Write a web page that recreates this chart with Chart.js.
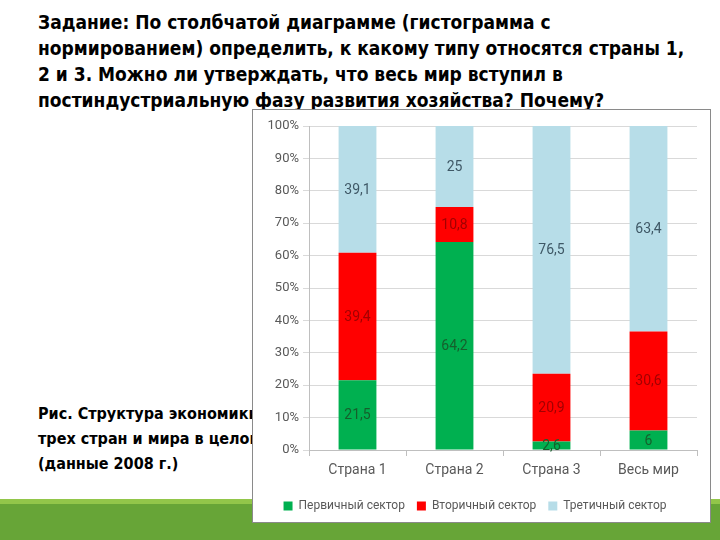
<!DOCTYPE html>
<html>
<head>
<meta charset="utf-8">
<script src="https://cdn.jsdelivr.net/npm/chart.js@4"></script>
<style>
  html, body { margin: 0; padding: 0; }
  body { width: 720px; height: 540px; position: relative; overflow: hidden; background: #fff;
         font-family: "DejaVu Sans Condensed", "Liberation Sans", sans-serif; }
  #task { position: absolute; left: 38px; top: 9px; width: 660px; font-size: 19px; font-weight: bold;
          line-height: 26px; color: #000; margin: 0; }
  #caption { position: absolute; left: 38px; top: 401px; font-size: 16px; font-weight: bold;
             line-height: 25px; color: #000; margin: 0; white-space: nowrap; }
  #band-light { position: absolute; left: 0; top: 499px; width: 720px; height: 5px; background: #92c64a; }
  #band { position: absolute; left: 0; top: 504px; width: 720px; height: 36px; background: #67a537; }
  #box { position: absolute; left: 252px; top: 109px; width: 459px; height: 414px; box-sizing: border-box;
         border: 1px solid #8a8a8a; background: #fff; }
</style>
</head>
<body>
<p id="task">Задание: По столбчатой диаграмме (гистограмма с нормированием) определить, к какому типу относятся страны 1, 2 и 3. Можно ли утверждать, что весь мир вступил в постиндустриальную фазу развития хозяйства? Почему?</p>
<p id="caption">Рис. Структура экономики<br>трех стран и мира в целом<br>(данные 2008 г.)</p>
<div id="band-light"></div>
<div id="band"></div>
<div id="box"><canvas id="chart"></canvas></div>

<script>
// -------------------------------------------------------------------
// Data
// -------------------------------------------------------------------
const categories = ["Страна 1", "Страна 2", "Страна 3", "Весь мир"];
const primary    = [21.5, 64.2, 2.6, 6];
const secondary  = [39.4, 10.8, 20.9, 30.6];
const tertiary   = [39.1, 25, 76.5, 63.4];
const yTicks     = [0, 10, 20, 30, 40, 50, 60, 70, 80, 90, 100];

const FONT = "Roboto, sans-serif";

// -------------------------------------------------------------------
// Inline value labels (comma decimal)
// -------------------------------------------------------------------
const valueLabels = {
  id: "valueLabels",
  afterDatasetsDraw(chart) {
    const ctx = chart.ctx;
    ctx.save();
    ctx.font = "14px " + FONT;
    ctx.textAlign = "center";
    ctx.textBaseline = "middle";
    chart.data.datasets.forEach((ds, i) => {
      chart.getDatasetMeta(i).data.forEach((bar, j) => {
        const p = bar.getProps(["x", "y", "base"], true);
        ctx.fillStyle = ds.labelColor;
        ctx.fillText(String(ds.data[j]).replace(".", ","), p.x, (p.y + p.base) / 2 + 1);
      });
    });
    ctx.restore();
  }
};

// -------------------------------------------------------------------
// Chart
// -------------------------------------------------------------------
new Chart(document.getElementById("chart"), {
  type: "bar",
  data: {
    labels: categories,
    datasets: [
      { label: "Первичный сектор", data: primary,   backgroundColor: "#00b050", labelColor: "#155f2c" },
      { label: "Вторичный сектор", data: secondary, backgroundColor: "#ff0000", labelColor: "#a30000" },
      { label: "Третичный сектор", data: tertiary,  backgroundColor: "#b7dde8", labelColor: "#3f5866" }
    ]
  },
  options: {
    responsive: true,
    maintainAspectRatio: false,
    animation: false,
    barPercentage: 0.39,
    categoryPercentage: 1,
    layout: { padding: { top: 16, right: 13, left: 0, bottom: 0 } },
    plugins: {
      legend: {
        position: "bottom",
        labels: {
          boxWidth: 9, boxHeight: 9, padding: 12,
          color: "#595959",
          font: { family: FONT, size: 12 }
        }
      },
      tooltip: { enabled: false }
    },
    scales: {
      x: {
        stacked: true,
        afterFit: s => { s.height = 38; },
        grid: { drawOnChartArea: false, offset: true, tickLength: 6, color: "#bfbfbf" },
        border: { color: "#bfbfbf" },
        ticks: { color: "#595959", padding: 6, font: { family: FONT, size: 14 } }
      },
      y: {
        stacked: true,
        min: 0, max: 100,
        afterFit: s => { s.width = 56; },
        afterBuildTicks: s => { s.ticks = yTicks.map(v => ({ value: v })); },
        grid: { color: "#d9d9d9", tickLength: 6 },
        border: { color: "#bfbfbf" },
        ticks: {
          color: "#595959", padding: 4,
          font: { family: FONT, size: 13 },
          callback: v => v + "%"
        }
      }
    }
  },
  plugins: [valueLabels]
});
</script>
</body>
</html>
